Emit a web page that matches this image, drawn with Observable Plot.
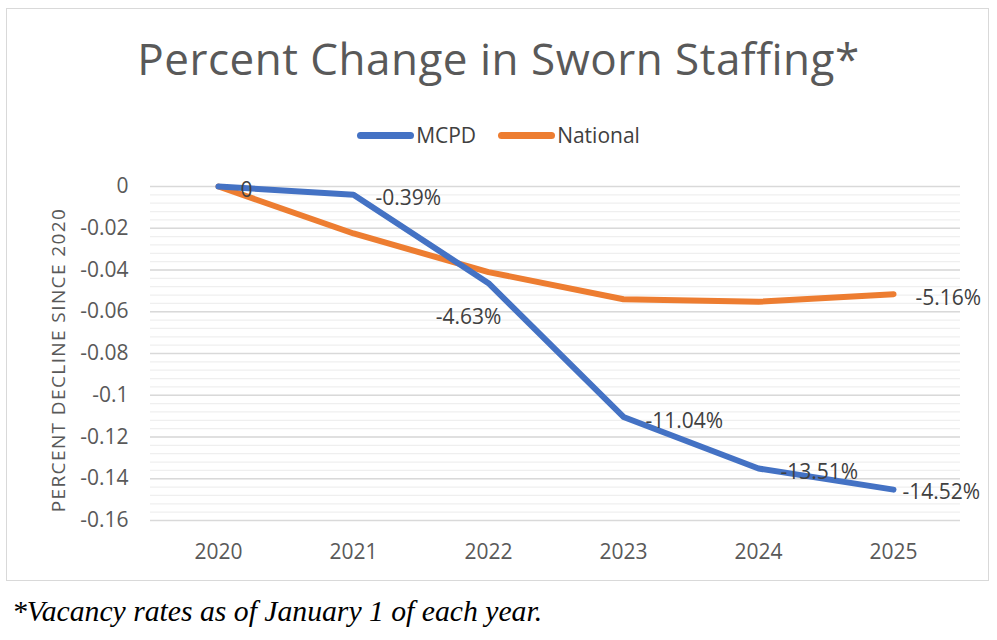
<!DOCTYPE html>
<html><head><meta charset="utf-8">
<script src="https://cdn.jsdelivr.net/npm/d3@7"></script>
<script src="https://cdn.jsdelivr.net/npm/@observablehq/plot@0.6"></script>
<style>
body{margin:0;background:#fff;font-family:"Open Sans",sans-serif;}
#wrap{position:relative;width:997px;height:640px;overflow:hidden;}
#box{position:absolute;left:6px;top:8px;width:983px;height:573px;border:1.5px solid #d9d9d9;box-sizing:border-box;}
#title{position:absolute;left:0;width:997px;top:28px;text-align:center;font-size:44px;letter-spacing:0.5px;line-height:normal;color:#595959;font-weight:400;}
#legend{position:absolute;top:120px;left:0;width:997px;height:30px;display:flex;justify-content:center;align-items:center;font-size:21px;color:#404040;}
.sw{display:inline-block;width:57px;height:7px;border-radius:3.5px;margin-right:2px;}
#ylab{position:absolute;left:58px;top:360px;transform:translate(-50%,-50%) rotate(-90deg);white-space:nowrap;font-size:19px;letter-spacing:1.4px;color:#595959;}
#plot{position:absolute;left:0;top:160px;}
#cap{position:absolute;left:12px;top:595px;font-family:"Liberation Serif","Times New Roman",serif;font-style:italic;font-size:29.7px;line-height:normal;color:#000;}
</style></head>
<body><div id="wrap">
<div id="box"></div>
<div id="title">Percent Change in Sworn Staffing*</div>
<div id="legend"><span class="sw" style="background:#4472C4"></span><span style="margin-right:22px">MCPD</span><span class="sw" style="background:#ED7D31"></span><span>National</span></div>
<div id="ylab">PERCENT DECLINE SINCE 2020</div>
<div id="plot"></div>
<div id="cap">*Vacancy rates as of January 1 of each year.</div>
</div>
<script>
const years = ["2020","2021","2022","2023","2024","2025"];
const mcpd = [0, -0.0039, -0.0463, -0.1104, -0.1351, -0.1452];
const national = [0, -0.0225, -0.041, -0.054, -0.0552, -0.0516];
const mcpdLabels = ["0","-0.39%","-4.63%","-11.04%","-13.51%","-14.52%"];
const nationalLabels = [null,null,null,null,null,"-5.16%"];
const yTicks = [0,-0.02,-0.04,-0.06,-0.08,-0.1,-0.12,-0.14,-0.16];
const yTickLabels = ["0","-0.02","-0.04","-0.06","-0.08","-0.1","-0.12","-0.14","-0.16"];

const rows = [];
years.forEach((y,i)=>{
  rows.push({year:y, series:"National", v:national[i], label:nationalLabels[i]});
  rows.push({year:y, series:"MCPD", v:mcpd[i], label:mcpdLabels[i]});
});
const minor = d3.range(0,41).map(i => -i*0.004);
const colors = {MCPD:"#4472C4", National:"#ED7D31"};
const lab = rows.filter(d=>d.label);
const right = lab.filter(d=>d.label!=="-4.63%" && d.label!=="-14.52%");

const chart = Plot.plot({
  width: 997, height: 405,
  marginLeft: 150, marginRight: 37, marginTop: 26, marginBottom: 45,
  style: {fontFamily:"'Open Sans',sans-serif", fontSize:"21px", color:"#595959", background:"transparent"},
  x: {type:"point", domain: years, padding:0.5, label:null},
  y: {domain:[-0.16,0], label:null},
  marks: [
    Plot.ruleY(minor, {stroke:"#efefef", strokeWidth:1.2}),
    Plot.ruleY(yTicks, {stroke:"#d9d9d9", strokeWidth:1.5}),
    Plot.axisY({ticks:yTicks, tickFormat:(d)=>yTickLabels[yTicks.indexOf(d)], tickSize:0, tickPadding:22, fontSize:21, fill:"#595959", label:null}),
    Plot.axisX({tickSize:0, tickPadding:24, fontSize:21, fill:"#595959", label:null}),
    Plot.line(rows, {x:"year", y:"v", z:"series", stroke:d=>colors[d.series], strokeWidth:6, strokeLinecap:"round", strokeLinejoin:"round"}),
    Plot.text(right, {x:"year", y:"v", text:"label", textAnchor:"start", dx:22, dy:4, fill:"#404040", fontSize:21}),
    Plot.text(lab.filter(d=>d.label==="-14.52%"), {x:"year", y:"v", text:"label", textAnchor:"start", dx:9, dy:3, fill:"#404040", fontSize:21}),
    Plot.text(lab.filter(d=>d.label==="-4.63%"), {x:"year", y:"v", text:"label", textAnchor:"middle", dx:-20, dy:34, fill:"#404040", fontSize:21})
  ]
});
document.getElementById("plot").appendChild(chart);
</script>
</body></html>
